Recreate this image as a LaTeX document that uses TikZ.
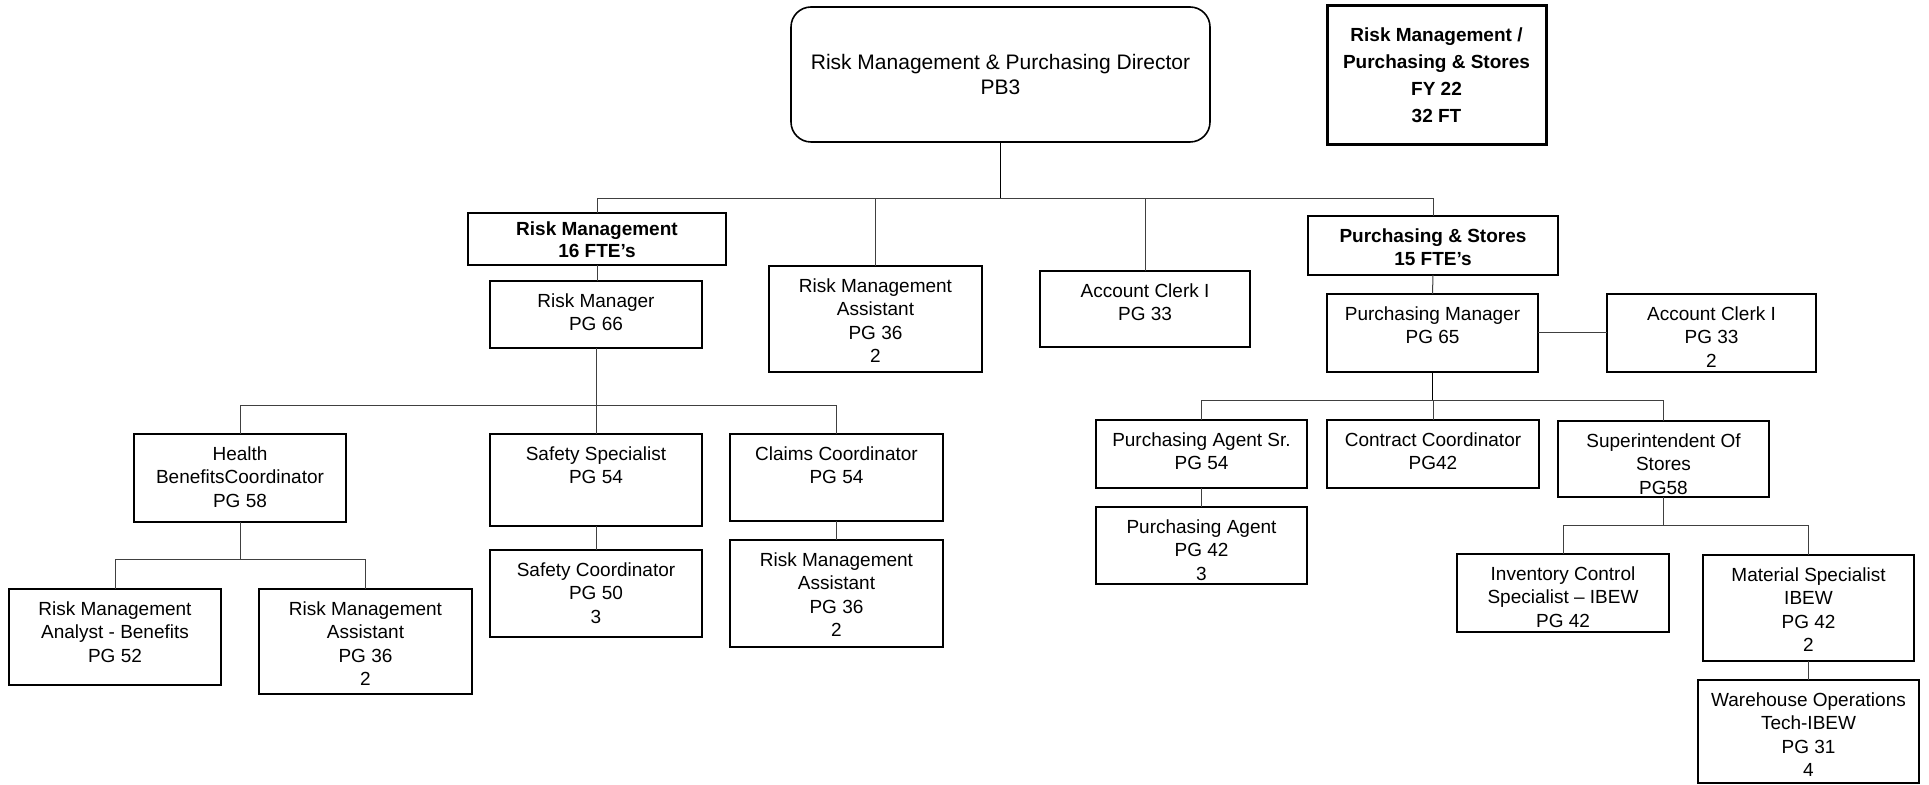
\documentclass[tikz,border=0pt]{standalone}
\usepackage{fontspec}
\setmainfont{Liberation Sans}
\tikzset{
  boxst/.style={draw, line width=1.2pt, inner sep=0pt, outer sep=0pt},
  dirst/.style={boxst, line width=0.8pt, rounded corners=10pt, align=center, font=\fontsize{10.5}{12.5}\selectfont},
  titlest/.style={boxst, line width=1.5pt, align=center, font=\bfseries\fontsize{9.5}{13.5}\selectfont},
  txt/.style={align=center, inner sep=0pt, font=\fontsize{9.5}{11.6}\selectfont},
  btxt/.style={txt, font=\bfseries\fontsize{9.5}{11.3}\selectfont},
  conn/.style={line width=0.5pt, draw=black!75},
  mainconn/.style={line width=0.9pt, draw=black}
}
% name, text style, x1, y1, x2, y2, text
\newcommand{\obox}[7]{%
  \node[boxst, anchor=north west, minimum width={(#5-#3)*0.5pt}, minimum height={(#6-#4)*0.5pt}] (#1) at (#3,#4) {};
  \node[#2, anchor=north] (#1t) at ([yshift=-6.25pt]#1.north) {#7};}
\begin{document}
\begin{tikzpicture}[x=0.5pt, y=-0.5pt]
\useasboundingbox (0,0) rectangle (1929,785);

% top
\node[dirst, anchor=north west, minimum width=209.5pt, minimum height=67.5pt] (dir) at (791,7)
  {Risk Management \& Purchasing Director\\PB3};
\node[titlest, anchor=north west, minimum width=109.5pt, minimum height=69.5pt] (title) at (1327,6)
  {Risk Management /\\Purchasing \& Stores\\FY 22\\32 FT};

% second level
\node[boxst, anchor=north west, minimum width=129pt, minimum height=26pt] (rmh) at (468,213) {};
\node[btxt, anchor=north] (rmht) at ([yshift=-4pt]rmh.north) {Risk Management\\16 FTE’s};
\obox{rm}{txt}{490}{281}{702}{348}{Risk Manager\\PG 66}
\obox{rma}{txt}{769}{266}{982}{372}{Risk Management\\Assistant\\PG 36\\2}
\obox{ac}{txt}{1040}{271}{1250}{347}{Account Clerk I\\PG 33}
\obox{psh}{btxt}{1308}{216}{1558}{275}{Purchasing \& Stores\\15 FTE’s}
\obox{pm}{txt}{1327}{294}{1538}{372}{Purchasing Manager\\PG 65}
\obox{ac2}{txt}{1607}{294}{1816}{372}{Account Clerk I\\PG 33\\2}

% risk management branch
\obox{hbc}{txt}{134}{434}{346}{522}{Health\\BenefitsCoordinator\\PG 58}
\obox{ss}{txt}{490}{434}{702}{526}{Safety Specialist\\PG 54}
\obox{cc}{txt}{730}{434}{943}{521}{Claims Coordinator\\PG 54}
\obox{rmab}{txt}{9}{589}{221}{685}{Risk Management\\Analyst - Benefits\\PG 52}
\obox{rmal}{txt}{259}{589}{472}{694}{Risk Management\\Assistant\\PG 36\\2}
\obox{sc}{txt}{490}{550}{702}{637}{Safety Coordinator\\PG 50\\3}
\obox{rmac}{txt}{730}{540}{943}{647}{Risk Management\\Assistant\\PG 36\\2}

% purchasing branch
\obox{pas}{txt}{1096}{420}{1307}{488}{Purchasing Agent Sr.\\PG 54}
\obox{con}{txt}{1327}{420}{1539}{488}{Contract Coordinator\\PG42}
\obox{sup}{txt}{1558}{421}{1769}{497}{Superintendent Of\\Stores\\PG58}
\obox{pa}{txt}{1096}{507}{1307}{584}{Purchasing Agent\\PG 42\\3}
\obox{ic}{txt}{1457}{554}{1669}{632}{Inventory Control\\Specialist – IBEW\\PG 42}
\obox{ms}{txt}{1703}{555}{1914}{661}{Material Specialist\\IBEW\\PG 42\\2}
\obox{wh}{txt}{1698}{680}{1919}{783}{Warehouse Operations\\Tech-IBEW\\PG 31\\4}

% bus coordinates
\coordinate (b1) at (0,199);
\coordinate (b2) at (0,406);
\coordinate (b3) at (0,560);
\coordinate (b4) at (0,401);
\coordinate (b5) at (0,526);

% connectors
\draw[mainconn] (dir.south) -- (dir.south |- b1);
\draw[conn] (rmh.north) -- (rmh.north |- b1) -- (psh.north |- b1) -- (psh.north);
\draw[conn] (rma.north) -- (rma.north |- b1);
\draw[conn] (ac.north) -- (ac.north |- b1);
\draw[conn] (rmh.south) -- (rm.north -| rmh.south);
\draw[conn] (psh.south) -- (pm.north);

\draw[conn] (rm.south) -- (rm.south |- b2);
\draw[conn] (hbc.north) -- (hbc.north |- b2) -- (cc.north |- b2) -- (cc.north);
\draw[conn] (ss.north) -- (ss.north |- b2);
\draw[conn] (hbc.south) -- (hbc.south |- b3);
\draw[conn] (rmab.north) -- (rmab.north |- b3) -- (rmal.north |- b3) -- (rmal.north);
\draw[conn] (ss.south) -- (sc.north);
\draw[conn] (cc.south) -- (rmac.north);

\draw[conn] (pm.east) -- (ac2.west);
\draw[mainconn] (pm.south) -- (pm.south |- b4);
\draw[conn] (pas.north) -- (pas.north |- b4) -- (sup.north |- b4) -- (sup.north);
\draw[conn] (con.north) -- (con.north |- b4);
\draw[conn] (pas.south) -- (pa.north);
\draw[conn] (sup.south) -- (sup.south |- b5);
\draw[conn] (ic.north) -- (ic.north |- b5) -- (ms.north |- b5) -- (ms.north);
\draw[conn] (ms.south) -- (wh.north);
\end{tikzpicture}
\end{document}
